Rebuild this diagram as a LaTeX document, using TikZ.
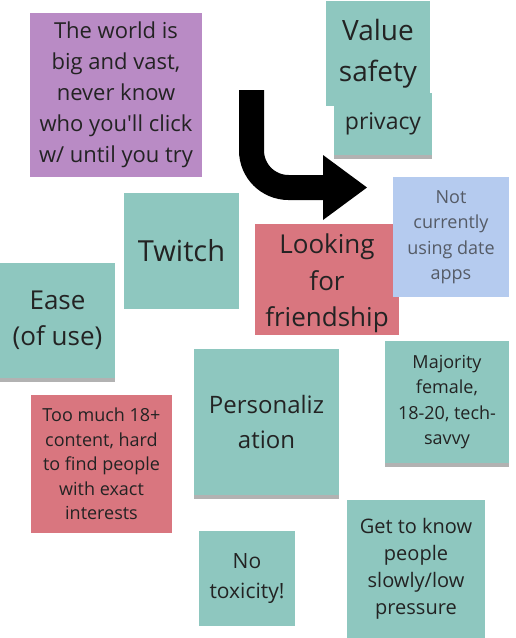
\documentclass[tikz,border=0pt]{standalone}
\usepackage{fontspec}
\setmainfont{Open Sans}
\usetikzlibrary{shadows}

\definecolor{noteteal}{HTML}{8EC7BF}
\definecolor{notepurple}{HTML}{B98BC5}
\definecolor{notered}{HTML}{D9767F}
\definecolor{noteblue}{HTML}{B5CBEF}
\definecolor{notetext}{HTML}{232323}
\definecolor{greytext}{HTML}{555B66}

\begin{document}
\begin{tikzpicture}[x=1pt, y=-1pt,
    note/.style={inner sep=0pt, align=center, text=notetext},
    lifted/.style={drop shadow={shadow xshift=0pt, shadow yshift=-4pt, opacity=.3, fill=black}}]
    \useasboundingbox (0,0) rectangle (515,638);

    % top left, purple
    \node[note, fill=notepurple, minimum width=172pt, minimum height=164pt,
          font=\fontsize{22}{31}\selectfont] (world) at (116,95)
          {The world is\\big and vast,\\never know\\who you\textquotesingle ll click\\w/ until you try};

    % safety stack (privacy sits behind)
    \node[note, lifted, fill=noteteal, minimum width=98pt, minimum height=62pt,
          font=\fontsize{23}{30}\selectfont] (privacy) at (383,124) {privacy};
    \node[note, fill=noteteal, minimum width=104pt, minimum height=105pt,
          font=\fontsize{28}{41}\selectfont] (safety) at (378,53.5) {Value\\safety};

    % big arrow
    \coordinate (bend start) at (251.5,90);
    \coordinate (bend end) at (324,187.5);
    \draw[line width=25pt, rounded corners=37pt] (bend start) |- (bend end);
    \fill (323,155) -- (367,187.5) -- (323,220) -- cycle;

    % middle row
    \node[note, fill=noteteal, minimum width=115pt, minimum height=116pt,
          font=\fontsize{29}{36}\selectfont] (twitch) at (181.5,251) {Twitch};
    \node[note, lifted, fill=noteteal, minimum width=115pt, minimum height=115pt,
          font=\fontsize{26}{36}\selectfont] (ease) at (57.5,320.5) {Ease\\(of use)};
    \node[note, fill=notered, minimum width=144pt, minimum height=111pt,
          font=\fontsize{26}{36.5}\selectfont] (friends) at (327,279.5)
          {\rule{0pt}{28pt}Looking\\for\\friendship};
    \node[note, fill=noteblue, text=greytext, minimum width=116pt, minimum height=120pt,
          font=\fontsize{18}{25.5}\selectfont] (noapps) at (451,237) {Not\\currently\\using date\\apps};

    % lower half
    \node[note, lifted, fill=noteteal, minimum width=145pt, minimum height=146pt,
          font=\fontsize{24}{35.5}\selectfont] (personal) at (266.5,422) {Personaliz\\ation};
    \node[note, lifted, fill=noteteal, minimum width=124pt, minimum height=122pt,
          font=\fontsize{18}{25.5}\selectfont] (majority) at (447,402) {Majority\\female,\\18-20, tech-\\savvy};
    \node[note, fill=notered, minimum width=141pt, minimum height=138pt,
          font=\fontsize{18}{24.5}\selectfont] (adult) at (101.5,464)
          {Too much 18+\\content, hard\\to find people\\with exact\\interests};
    \node[note, fill=noteteal, minimum width=96pt, minimum height=95pt,
          font=\fontsize{21}{30}\selectfont] (toxic) at (247,578.5) {No\\toxicity!};
    \node[note, fill=noteteal, minimum width=138pt, minimum height=138pt,
          font=\fontsize{20}{27}\selectfont] (slowly) at (416,569)
          {Get to know\\people\\slowly/low\\pressure};
\end{tikzpicture}
\end{document}
